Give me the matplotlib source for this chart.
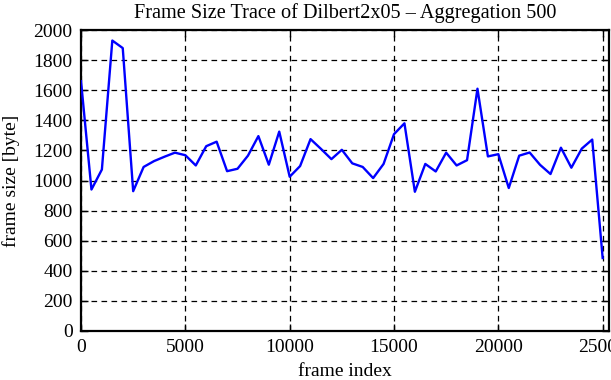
import numpy as np
import matplotlib
matplotlib.use("Agg")
import matplotlib.pyplot as plt

# aggregated frame sizes, one value every 500 frames
frame_idx = np.arange(0, 25001, 500)
frame_size = [1660, 940, 1073, 1930, 1880, 929, 1090, 1129, 1158, 1185,
              1168, 1100, 1228, 1258, 1062, 1078, 1165, 1295, 1105, 1325,
              1025, 1096, 1275, 1210, 1142, 1204, 1114, 1090, 1016, 1110,
              1308, 1380, 925, 1110, 1060, 1185, 1100, 1135, 1610, 1160,
              1175, 950, 1165, 1186, 1104, 1043, 1218, 1085, 1212, 1272,
              485]

xticks = [0, 5000, 10000, 15000, 20000, 25000]
yticks = list(range(0, 2001, 200))

plt.rcParams['font.family'] = ['Liberation Serif', 'DejaVu Serif']
plt.rcParams['font.size'] = 14

fig = plt.figure(figsize=(6.11, 3.80), dpi=100)
ax = fig.add_axes([0.1326, 0.129, 0.864, 0.792])

ax.plot(frame_idx, frame_size, color='#0000ff', lw=1.7, zorder=3)

ax.set_xlim(0, 25300)
ax.set_ylim(0, 2000)
ax.set_xticks(xticks)
ax.set_yticks(yticks)
ax.grid(True, color='black', ls=(0, (4.5, 3.5)), lw=0.9)
ax.tick_params(direction='in', length=5, width=1, top=True, right=True,
               pad=6, labelsize=14)
for s in ax.spines.values():
    s.set_linewidth(1.6)

ax.set_title('Frame Size Trace of Dilbert2x05 \u2013 Aggregation 500',
             fontsize=14.6, pad=9)
ax.set_xlabel('frame index', labelpad=5)
ax.set_ylabel('frame size [byte]', labelpad=10)

fig.savefig('out.png', dpi=100)
